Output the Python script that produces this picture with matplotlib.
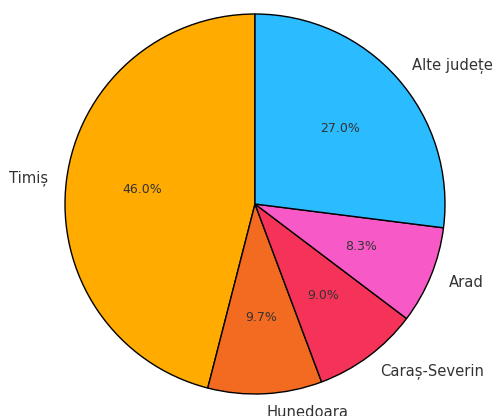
import matplotlib.pyplot as plt

labels = ['Timiș', 'Hunedoara', 'Caraș-Severin', 'Arad', 'Alte județe']
shares = [46.0, 9.7, 9.0, 8.3, 27.0]
colors = ['#FFAB00', '#F26B21', '#F53359', '#F75AC6', '#2BBBFF']

fig = plt.figure(figsize=(4.93, 4.16), dpi=100)
# place axes so the pie sits where it does in the reference
ax = fig.add_axes([17.5 / 493, -25.5 / 416, 475 / 493, 475 / 416])

wedges, texts, autotexts = ax.pie(
    shares, labels=labels, colors=colors, autopct='%1.1f%%',
    startangle=90, counterclock=True,
    wedgeprops={'edgecolor': 'black', 'linewidth': 1},
    textprops={'color': '#333333'})

for t in texts:
    t.set_fontsize(10.6)
for t in autotexts:
    t.set_fontsize(9)

ax.set_xlim(-1.25, 1.25)
ax.set_ylim(-1.25, 1.25)
ax.set_aspect('equal')

fig.savefig('out.png', dpi=100)
